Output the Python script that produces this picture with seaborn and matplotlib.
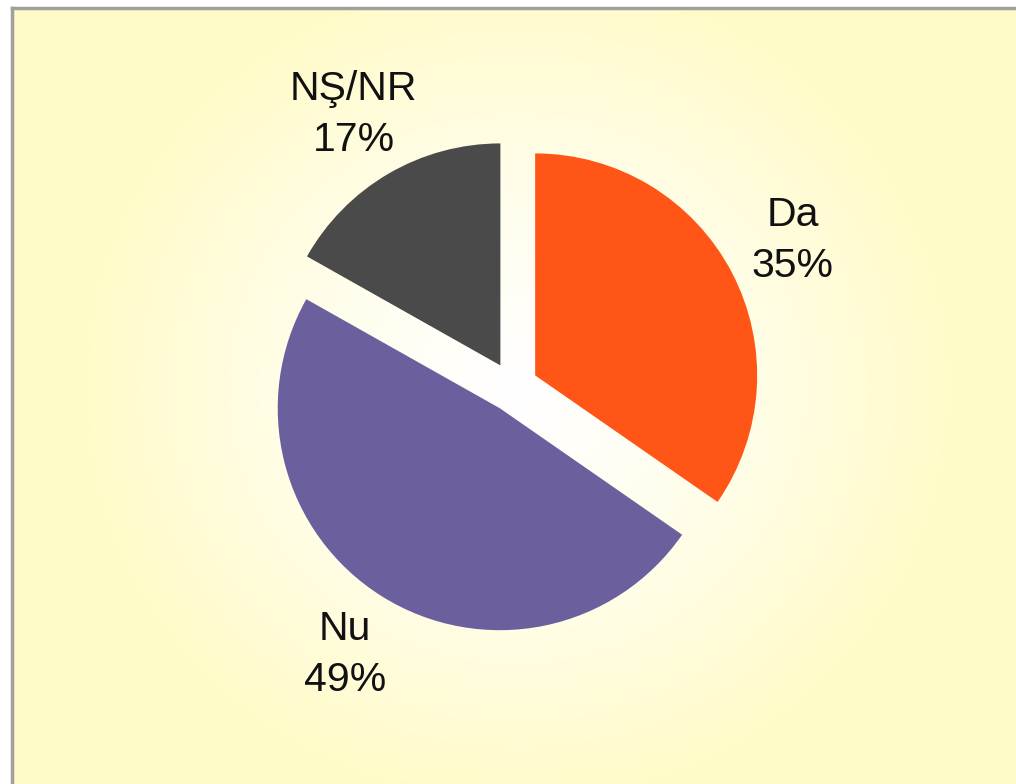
import numpy as np
import matplotlib
matplotlib.use("Agg")
import matplotlib.pyplot as plt
import matplotlib.colors as mcolors
import seaborn as sns

# survey answers (percent)
answers = ["Da", "Nu", "NŞ/NR"]
percents = [35, 49, 17]
slice_colors = ["#FF5617", "#6B5F9E", "#4A4A4A"]

sns.set_theme(style="white")
plt.rcParams["font.family"] = ["Liberation Sans", "DejaVu Sans"]

W, H = 1016, 784
fig = plt.figure(figsize=(W / 100, H / 100), dpi=100)

# panel background: pale yellow with a white glow round the pie
bg = fig.add_axes([12 / W, 0, 1 - 12 / W, 1 - 8 / H])
yy, xx = np.mgrid[0:H - 8, 0:W - 12]
dist = np.hypot((xx - 505) / 1.0, (yy - 380) / 0.95)
t = np.clip(dist / 440, 0, 1) ** 1.3
white = np.array([1.0, 1.0, 1.0])
yellow = np.array(mcolors.to_rgb("#FFFBC8"))
img = white[None, None, :] * (1 - t[..., None]) + yellow[None, None, :] * t[..., None]
bg.imshow(img, aspect="auto", interpolation="bilinear")
bg.set_xticks([])
bg.set_yticks([])
for side in ["right", "bottom"]:
    bg.spines[side].set_visible(False)
for side in ["left", "top"]:
    bg.spines[side].set_color("#A0A0A0")
    bg.spines[side].set_linewidth(2.5)

ax = fig.add_axes([0, 0, 1, 1])
ax.patch.set_alpha(0)
labels = [f"{a}\n{p}%" for a, p in zip(answers, percents)]
wedges, texts = ax.pie(
    percents,
    labels=labels,
    colors=slice_colors,
    startangle=90,
    counterclock=False,
    explode=[25, 25, 25],
    radius=222,
    center=(513, H - 387),
    labeldistance=1.31,
    textprops={"fontsize": 29.5, "color": "#111111"},
    wedgeprops={"linewidth": 0},
)
for tx in texts:
    tx.set_ha("center")
    tx.set_va("center")
    tx.set_multialignment("center")
    tx.set_linespacing(1.45)
ax.set_xlim(0, W)
ax.set_ylim(0, H)
ax.set_aspect("equal")
ax.axis("off")

fig.savefig("out.png", dpi=100)
